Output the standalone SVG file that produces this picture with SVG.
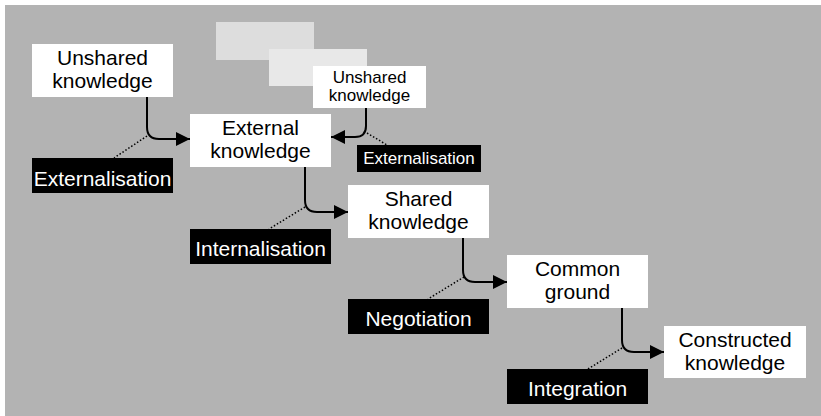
<svg xmlns="http://www.w3.org/2000/svg" width="821" height="416" viewBox="0 0 821 416">
<style>
.box{fill:#ffffff}
.lbl{fill:#000000}
.t{font-family:"Liberation Sans",Arial,Helvetica,sans-serif;font-size:21px;text-anchor:middle;fill:#000}
.ts{font-family:"Liberation Sans",Arial,Helvetica,sans-serif;font-size:17px;text-anchor:middle;fill:#000}
.w{fill:#fff}
.conn{fill:none;stroke:#000;stroke-width:2}
.dot{fill:none;stroke:#000;stroke-width:1.5;stroke-dasharray:1.5 2}
</style>
<defs>
<marker id="arr" viewBox="0 0 14 14" markerWidth="14" markerHeight="14" refX="14" refY="7" orient="auto" markerUnits="userSpaceOnUse">
<path d="M0,0 L14,7 L0,14 z" fill="#000"/>
</marker>
</defs>
<rect x="5" y="5" width="816" height="411" fill="#b3b3b3"/>
<rect x="216" y="22" width="98" height="38" fill="#dddddd"/>
<rect x="269" y="49" width="98" height="37" fill="#e8e8e8"/>

<g id="connectors">
<path class="conn" d="M147,97 V127 Q147,139 159,139 H190" marker-end="url(#arr)"/>
<path class="conn" d="M366,108 V126 Q366,137 355,137 H331" marker-end="url(#arr)"/>
<path class="conn" d="M305,167 V200 Q305,212 317,212 H348" marker-end="url(#arr)"/>
<path class="conn" d="M463,238 V270 Q463,282 475,282 H507" marker-end="url(#arr)"/>
<path class="conn" d="M622,308 V340 Q622,352 634,352 H664" marker-end="url(#arr)"/>
<path class="dot" d="M147,136 L114,158"/>
<path class="dot" d="M367,133 L387,145"/>
<path class="dot" d="M305,207 L269,229"/>
<path class="dot" d="M464,277 L428,299"/>
<path class="dot" d="M622,348 L588,369"/>
</g>

<g id="unshared">
<rect class="box" x="32" y="44" width="141" height="53"/>
<text class="t" x="102.5" y="65">Unshared</text>
<text class="t" x="102.5" y="88">knowledge</text>
</g>
<g id="externalisation1">
<rect class="lbl" x="32" y="158" width="141" height="35"/>
<text class="t w" x="102.5" y="186">Externalisation</text>
</g>
<g id="unshared2">
<rect class="box" x="313" y="66" width="113" height="42"/>
<text class="ts" x="369.5" y="83">Unshared</text>
<text class="ts" x="369.5" y="101">knowledge</text>
</g>
<g id="externalisation2">
<rect class="lbl" x="357" y="145" width="124" height="27"/>
<text class="ts w" x="419" y="164">Externalisation</text>
</g>
<g id="external">
<rect class="box" x="190" y="114" width="141" height="53"/>
<text class="t" x="260.5" y="135">External</text>
<text class="t" x="260.5" y="158">knowledge</text>
</g>
<g id="internalisation">
<rect class="lbl" x="190" y="229" width="141" height="35"/>
<text class="t w" x="260.5" y="256">Internalisation</text>
</g>
<g id="shared">
<rect class="box" x="348" y="185" width="141" height="53"/>
<text class="t" x="418.5" y="206">Shared</text>
<text class="t" x="418.5" y="229">knowledge</text>
</g>
<g id="negotiation">
<rect class="lbl" x="348" y="299" width="141" height="35"/>
<text class="t w" x="418.5" y="326">Negotiation</text>
</g>
<g id="common">
<rect class="box" x="507" y="255" width="141" height="53"/>
<text class="t" x="577.5" y="276">Common</text>
<text class="t" x="577.5" y="299">ground</text>
</g>
<g id="integration">
<rect class="lbl" x="507" y="369" width="141" height="35"/>
<text class="t w" x="577.5" y="396">Integration</text>
</g>
<g id="constructed">
<rect class="box" x="664" y="326" width="142" height="52"/>
<text class="t" x="735" y="347">Constructed</text>
<text class="t" x="735" y="370">knowledge</text>
</g>
</svg>
